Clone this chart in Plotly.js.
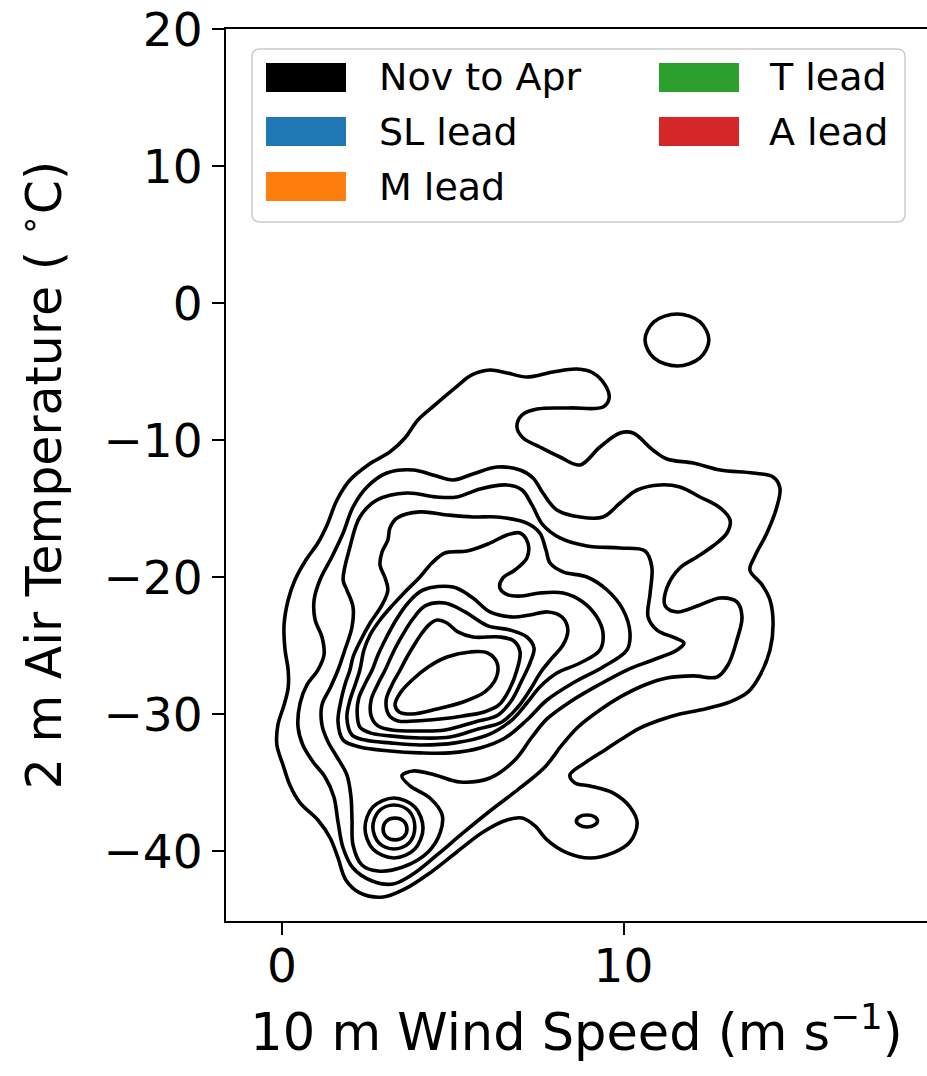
<!DOCTYPE html>
<html>
<head>
<meta charset="utf-8">
<script src="https://cdn.plot.ly/plotly-3.0.1.min.js"></script>
<style>
  html, body { margin: 0; padding: 0; background: #fff; overflow: hidden; }
  #chart { width: 927px; height: 1076px; }
</style>
</head>
<body>
<div id="chart"></div>
<script>
// Kernel-density contour lines of 10 m wind speed (m/s) vs 2 m air temperature (deg C),
// November to April. Each level is a closed ring of [windSpeed, temperature] vertices.

const densityLevel1 = [
  [1.32,-16.18],[1.61,-14.36],[1.99,-12.90],[2.52,-11.80],[3.16,-10.85],[3.60,-9.83],[3.98,-8.52],
  [4.48,-7.42],[5.07,-6.18],[5.56,-5.23],[6.09,-4.87],[6.59,-5.09],[7.17,-5.38],[7.94,-5.01],
  [8.64,-4.80],[9.11,-5.09],[9.46,-5.96],[9.58,-6.91],[9.40,-7.57],[8.43,-7.64],[7.47,-7.72],
  [7.03,-8.15],[6.88,-9.03],[7.06,-9.83],[7.55,-10.49],[8.14,-11.22],[8.73,-11.80],[9.31,-10.49],
  [9.90,-9.47],[10.28,-9.47],[10.86,-10.71],[11.27,-11.37],[12.04,-11.66],[12.83,-12.17],
  [13.79,-12.39],[14.38,-12.68],[14.58,-13.48],[14.49,-14.87],[14.20,-16.77],[13.85,-18.45],
  [13.70,-19.47],[14.06,-20.56],[14.29,-21.66],[14.38,-23.34],[14.29,-25.31],[14.00,-27.14],
  [13.65,-28.37],[13.12,-29.10],[12.39,-29.61],[11.65,-29.98],[11.07,-30.42],[10.48,-31.01],
  [9.90,-31.88],[9.46,-32.60],[8.87,-33.55],[8.43,-34.43],[8.58,-35.01],[9.02,-35.23],
  [9.69,-35.74],[10.19,-36.77],[10.40,-37.93],[10.19,-39.32],[9.69,-40.12],[9.02,-40.49],
  [8.35,-40.12],[7.76,-39.17],[7.41,-38.15],[7.03,-37.57],[6.59,-37.72],[5.89,-38.59],
  [5.12,-40.05],[4.33,-41.58],[3.60,-42.75],[2.96,-43.34],[2.28,-43.04],[1.87,-42.09],
  [1.64,-40.49],[1.41,-39.03],[1.05,-37.72],[0.53,-36.47],[0.23,-35.16],[0.03,-33.70],
  [-0.15,-32.24],[-0.12,-30.78],[0.06,-29.32],[0.18,-28.08],[0.18,-26.77],[0.09,-25.31],
  [0.06,-23.48],[0.18,-21.66],[0.38,-20.20],[0.70,-18.74],[1.05,-17.50]
];

const densityLevel2 = [
  [1.79,-16.77],[2.08,-14.87],[2.49,-13.41],[3.07,-12.39],[3.84,-12.17],[4.42,-12.53],[5.01,-12.90],
  [5.59,-12.46],[6.30,-11.95],[6.97,-12.17],[7.35,-12.75],[7.64,-13.85],[8.05,-15.09],[8.73,-15.60],
  [9.40,-15.60],[9.90,-14.58],[10.40,-13.63],[11.07,-13.26],[11.65,-13.41],[12.24,-14.14],
  [12.83,-14.94],[13.12,-15.82],[13.03,-16.77],[12.62,-17.72],[12.15,-18.52],[11.65,-19.32],
  [11.27,-20.78],[11.22,-22.09],[11.57,-22.53],[12.24,-22.02],[12.83,-21.51],[13.32,-21.80],
  [13.47,-22.90],[13.32,-24.58],[13.06,-26.40],[12.74,-27.28],[12.04,-27.20],[11.27,-27.35],
  [10.69,-27.79],[9.96,-28.66],[9.31,-29.69],[8.67,-30.93],[8.20,-32.24],[7.70,-33.85],
  [6.97,-35.38],[6.09,-37.06],[5.30,-38.66],[4.54,-40.27],[3.84,-41.66],[3.25,-42.39],
  [2.64,-42.17],[2.08,-41.22],[1.79,-39.76],[1.64,-37.86],[1.52,-36.04],[1.26,-34.58],
  [0.91,-33.48],[0.61,-32.24],[0.47,-30.93],[0.53,-29.18],[0.73,-27.86],[1.05,-26.77],
  [1.23,-25.67],[1.17,-24.36],[0.97,-23.12],[0.94,-21.66],[1.11,-20.20],[1.46,-18.52]
];

const densityLevel3 = [
  [1.79,-20.20],[1.99,-17.79],[2.28,-15.60],[2.78,-14.36],[3.66,-13.85],[4.54,-14.14],[5.12,-14.14],
  [5.80,-13.55],[6.59,-13.26],[7.03,-13.63],[7.32,-14.72],[7.64,-16.18],[8.14,-17.13],[8.93,-17.72],
  [9.90,-17.86],[10.63,-18.08],[10.83,-19.25],[10.78,-21.15],[10.72,-22.90],[10.98,-23.85],
  [11.51,-24.43],[11.77,-24.80],[11.57,-25.31],[10.86,-26.04],[10.10,-26.77],[9.22,-27.93],
  [8.43,-29.10],[7.76,-30.34],[7.32,-31.66],[6.82,-33.34],[6.09,-34.65],[5.21,-34.94],
  [4.48,-34.43],[3.84,-34.14],[3.51,-34.50],[3.75,-35.23],[4.33,-36.11],[4.69,-37.35],
  [4.63,-38.66],[4.28,-40.05],[3.54,-41.15],[2.81,-41.44],[2.34,-41.00],[2.08,-39.54],
  [2.05,-37.71],[2.02,-36.04],[1.90,-34.43],[1.61,-33.12],[1.35,-32.02],[1.17,-30.78],
  [1.17,-29.32],[1.41,-28.08],[1.64,-26.77],[1.84,-25.31],[2.05,-23.63],[2.08,-22.17],[1.90,-20.93]
];

const densityLevel4 = [
  [3.10,-17.28],[3.16,-16.40],[3.37,-15.67],[4.04,-15.23],[4.83,-15.45],[5.59,-15.60],[6.30,-15.60],
  [7.17,-16.04],[7.55,-16.77],[7.73,-18.01],[7.85,-18.96],[8.23,-19.61],[8.93,-19.98],[9.52,-20.93],
  [9.99,-22.39],[10.19,-24.07],[10.10,-25.31],[9.40,-26.55],[8.52,-27.72],[7.76,-28.96],
  [7.17,-30.42],[6.53,-31.73],[5.80,-32.46],[4.92,-32.82],[4.04,-32.82],[3.16,-32.68],
  [2.28,-32.39],[1.79,-31.88],[1.64,-30.56],[1.73,-28.96],[1.84,-27.86],[1.99,-26.77],
  [2.08,-25.82],[2.28,-24.72],[2.58,-23.34],[2.93,-22.02],[3.10,-20.93],[3.02,-20.05],
  [2.87,-19.10],[2.93,-18.15]
];

const densityLevel5 = [
  [4.04,-19.98],[4.39,-18.96],[4.77,-18.23],[5.42,-18.08],[6.03,-17.57],[6.59,-16.91],[6.97,-16.77],
  [7.20,-17.50],[7.17,-18.59],[6.82,-19.47],[6.47,-20.05],[6.38,-20.78],[6.62,-21.29],[7.03,-21.37],
  [7.55,-21.15],[8.23,-21.15],[8.81,-21.80],[9.22,-22.90],[9.40,-24.07],[9.31,-25.31],[8.73,-26.26],
  [8.05,-26.99],[7.55,-28.01],[7.17,-29.18],[6.73,-30.42],[6.03,-31.51],[5.07,-32.09],[4.04,-32.24],
  [3.16,-32.09],[2.43,-31.88],[2.05,-31.51],[1.90,-30.27],[1.99,-28.96],[2.14,-27.86],[2.28,-26.77],
  [2.40,-25.31],[2.58,-24.21],[2.87,-23.12],[3.22,-22.09],[3.60,-21.07]
];

const densityLevel6 = [
  [4.13,-20.93],[5.01,-20.71],[5.59,-21.51],[6.09,-22.53],[6.76,-22.90],[7.26,-22.75],[7.79,-22.53],
  [8.20,-22.90],[8.37,-23.85],[8.23,-24.94],[7.91,-25.89],[7.58,-26.91],[7.26,-28.23],[6.91,-29.47],
  [6.44,-30.56],[5.74,-31.07],[4.92,-31.66],[4.04,-31.73],[3.16,-31.58],[2.58,-31.36],[2.28,-30.93],
  [2.20,-29.83],[2.25,-28.81],[2.43,-27.79],[2.64,-26.77],[2.81,-25.67],[3.05,-24.43],[3.34,-23.12],
  [3.69,-21.88]
];

const densityLevel7 = [
  [4.19,-22.09],[4.77,-21.88],[5.36,-22.53],[6.03,-23.55],[6.68,-23.85],[7.17,-24.36],[7.38,-25.16],
  [7.26,-26.26],[7.03,-27.50],[6.73,-28.96],[6.33,-30.05],[5.65,-30.56],[4.77,-31.15],[4.04,-31.22],
  [3.22,-31.15],[2.81,-30.85],[2.61,-30.12],[2.61,-28.96],[2.78,-27.93],[3.02,-26.77],[3.22,-25.67],
  [3.48,-24.43],[3.81,-23.12]
];

const densityLevel8 = [
  [4.54,-23.12],[4.83,-23.34],[5.15,-23.99],[5.59,-24.36],[6.38,-24.36],[6.79,-24.65],[6.97,-25.45],
  [6.88,-26.77],[6.65,-28.23],[6.35,-29.32],[5.92,-29.83],[5.30,-30.12],[4.63,-30.34],[3.89,-30.49],
  [3.40,-30.49],[3.13,-30.05],[3.05,-28.96],[3.22,-27.86],[3.46,-26.77],[3.66,-25.82],[3.87,-24.94],
  [4.10,-24.07],[4.33,-23.41]
];

const densityLevel9 = [
  [3.31,-29.32],[3.46,-28.45],[3.81,-27.50],[4.28,-26.55],[4.83,-25.82],[5.51,-25.45],[6.03,-25.53],
  [6.30,-26.26],[6.27,-27.35],[5.94,-28.37],[5.30,-29.10],[4.54,-29.61],[3.81,-29.98],[3.43,-29.83]
];

// secondary cold, light-wind maximum near (3.3 m/s, -38 C)
const coldPeakRing1 = [
  [4.13,-38.30],[3.89,-36.77],[3.28,-36.11],[2.66,-36.77],[2.43,-38.30],[2.66,-39.83],[3.28,-40.49],[3.89,-39.83]
];
const coldPeakRing2 = [
  [3.89,-38.23],[3.72,-37.06],[3.28,-36.62],[2.84,-37.06],[2.66,-38.23],[2.84,-39.39],[3.28,-39.83],[3.72,-39.39]
];
const coldPeakRing3 = [
  [3.66,-38.37],[3.56,-37.79],[3.31,-37.57],[3.06,-37.79],[2.96,-38.37],[3.06,-38.96],[3.31,-39.17],[3.56,-38.96]
];

// isolated pockets
const warmIsland = [
  [12.50,-2.68],[12.24,-1.36],[11.57,-0.78],[10.89,-1.36],[10.63,-2.68],[10.89,-3.99],[11.57,-4.58],[12.24,-3.99]
];
const windyColdIsland = [
  [9.24,-37.79],[9.15,-37.48],[8.93,-37.35],[8.71,-37.48],[8.62,-37.79],[8.71,-38.09],[8.93,-38.23],[9.15,-38.09]
];

const xTickValues = [0, 10];
const yTickValues = [20, 10, 0, -10, -20, -30, -40];

const legendLabels = ['Nov to Apr', 'SL lead', 'M lead', 'T lead', 'A lead'];
const legendColors = ['#000000', '#1f77b4', '#ff7f0e', '#2ca02c', '#d62728'];

// ---------- figure geometry ----------
const W = 927, H = 1076;
const M = { l: 226, r: 0, t: 29, b: 155 };
const plotW = W - M.l - M.r;
const plotH = H - M.t - M.b;
const FONT = 'DejaVu Sans, Liberation Sans, sans-serif';

// figure pixel -> paper fraction (used for the legend box only)
const paperX = p => (p - M.l) / plotW;
const paperY = p => (H - M.b - p) / plotH;

function contourTrace(ring) {
  const pts = ring.concat([ring[0]]); // identical ends -> smooth closed spline
  return {
    type: 'scatter',
    mode: 'lines',
    x: pts.map(p => p[0]),
    y: pts.map(p => p[1]),
    line: { color: '#000000', width: 3.6, shape: 'spline', smoothing: 1 },
    hoverinfo: 'skip',
    showlegend: false
  };
}

const rings = [
  densityLevel1, densityLevel2, densityLevel3, densityLevel4, densityLevel5,
  densityLevel6, densityLevel7, densityLevel8, densityLevel9,
  coldPeakRing1, coldPeakRing2, coldPeakRing3, warmIsland, windyColdIsland
];
const traces = rings.map(contourTrace);

// ---------- legend (two columns, filled patches) ----------
const shapes = [];
const annotations = [];
{
  const x0 = paperX(252), x1 = paperX(905), y0 = paperY(222), y1 = paperY(49);
  const rx = 8 / plotW, ry = 8 / plotH;
  const path = [
    `M ${x0 + rx},${y0}`, `L ${x1 - rx},${y0}`, `Q ${x1},${y0} ${x1},${y0 + ry}`,
    `L ${x1},${y1 - ry}`, `Q ${x1},${y1} ${x1 - rx},${y1}`, `L ${x0 + rx},${y1}`,
    `Q ${x0},${y1} ${x0},${y1 - ry}`, `L ${x0},${y0 + ry}`, `Q ${x0},${y0} ${x0 + rx},${y0}`, 'Z'
  ].join(' ');
  shapes.push({
    type: 'path', xref: 'paper', yref: 'paper', path: path,
    fillcolor: 'rgba(255,255,255,0.8)', line: { color: '#cccccc', width: 1.5 }, layer: 'above'
  });

  const colPatchX = [266, 659];
  const colTextX = [377, 767];
  const rowTop = [63, 117, 172];
  const patchW = 80, patchH = 29;
  legendLabels.forEach((label, i) => {
    const col = i < 3 ? 0 : 1;
    const row = i < 3 ? i : i - 3;
    shapes.push({
      type: 'rect', xref: 'paper', yref: 'paper', layer: 'above',
      x0: paperX(colPatchX[col]), x1: paperX(colPatchX[col] + patchW),
      y0: paperY(rowTop[row] + patchH), y1: paperY(rowTop[row]),
      fillcolor: legendColors[i], line: { width: 0 }
    });
    annotations.push({
      xref: 'paper', yref: 'paper', showarrow: false,
      x: paperX(colTextX[col]), y: paperY(rowTop[row] + patchH / 2),
      xanchor: 'left', yanchor: 'middle',
      text: label, font: { family: FONT, size: 38, color: '#000000' }
    });
  });
}

const axisCommon = {
  showgrid: false, zeroline: false,
  showline: true, linecolor: '#000000', linewidth: 2,
  ticks: 'outside', ticklen: 12, tickwidth: 2, tickcolor: '#000000',
  tickfont: { family: FONT, size: 47, color: '#000000' },
  automargin: false, fixedrange: true
};

const layout = {
  width: W, height: H,
  margin: M,
  paper_bgcolor: '#ffffff', plot_bgcolor: '#ffffff',
  showlegend: false,
  xaxis: Object.assign({}, axisCommon, {
    range: [(M.l - 282) / 34.15, (W - M.r - 282) / 34.15],
    tickvals: xTickValues, ticktext: xTickValues.map(String),
    ticklabelstandoff: -9,
    mirror: true,
    title: { text: '10 m Wind Speed (m s<sup>−1</sup>)', font: { family: FONT, size: 51, color: '#000000' }, standoff: 22 }
  }),
  yaxis: Object.assign({}, axisCommon, {
    range: [-45.09, 20.02],
    tickvals: yTickValues,
    title: { text: '2 m Air Temperature ( <sup>∘</sup>C)', font: { family: FONT, size: 49, color: '#000000' }, standoff: 26 }
  }),
  shapes: shapes,
  annotations: annotations
};

Plotly.newPlot('chart', traces, layout, { staticPlot: true, displayModeBar: false });
</script>
</body>
</html>
